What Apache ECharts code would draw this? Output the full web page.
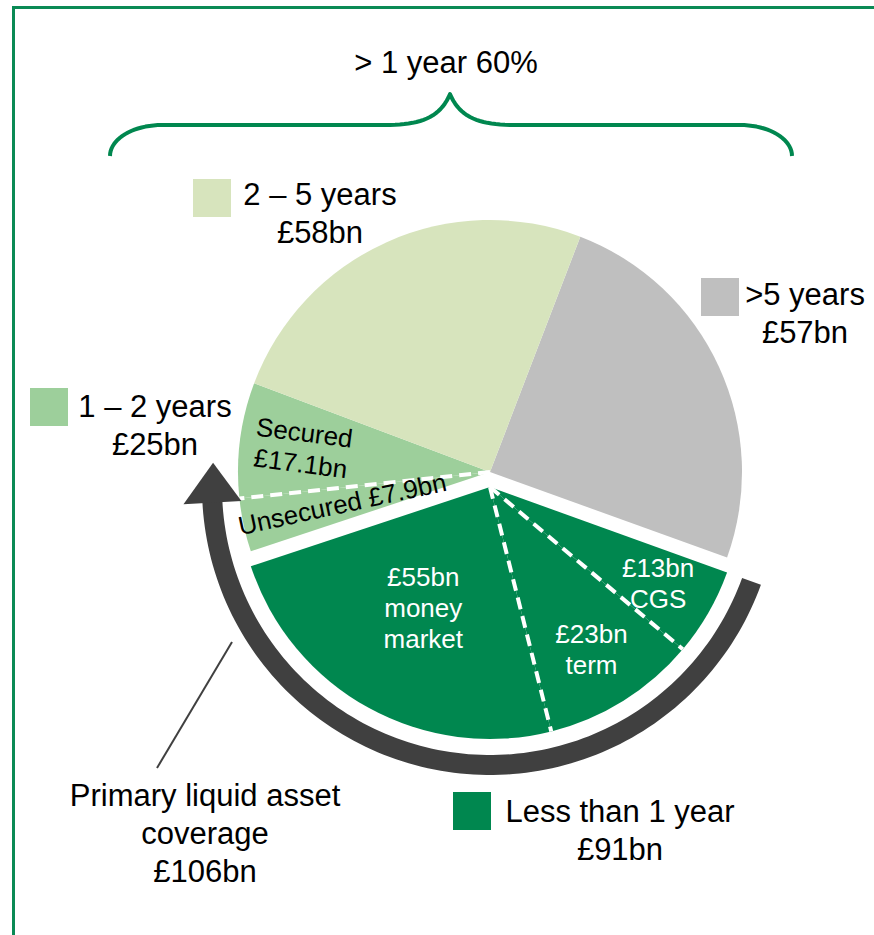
<!DOCTYPE html>
<html><head><meta charset="utf-8">
<script src="https://cdn.jsdelivr.net/npm/echarts@6/dist/echarts.min.js"></script>
<style>html,body{margin:0;padding:0;background:#fff}#c{width:874px;height:935px}</style>
</head><body><div id="c"></div>
<script>
// ---- data ----
const groupNames = ['>5 years', 'Less than 1 year', '1 – 2 years', '2 – 5 years'];
const groupValues = [57, 91, 25, 58];
const shortTermNames = ['CGS', 'term', 'money\nmarket'];
const shortTermValues = [13, 23, 55];
const oneToTwoNames = ['Unsecured', 'Secured'];
const oneToTwoValues = [7.9, 17.1];
const coverageValue = 106;
const coverageLabel = 'Primary liquid asset\ncoverage\n£106bn';
const braceLabel = '> 1 year 60%';

// ---- style / layout ----
const groupColors = ['#BFBFBF', '#00874F', '#9DCF9B', '#D7E4BD'];
const FONT = '"Liberation Sans", Arial, sans-serif';
const C = [490, 472], EXPLODE = 15, R = 252, RMAX = 1.25, START = 69;
const C2 = [C[0], C[1] + EXPLODE];

const total = groupValues.reduce((a, b) => a + b, 0);
const items = [];
items.push({ name: groupNames[0], value: groupValues[0], g: 0 });
shortTermValues.forEach((v, i) => items.push({ name: shortTermNames[i], value: v, g: 1 }));
oneToTwoValues.forEach((v, i) => items.push({ name: oneToTwoNames[i], value: v, g: 2 }));
items.push({ name: groupNames[3], value: groupValues[3], g: 3 });
let acc = 0;
items.forEach(it => { it.start = acc; acc += it.value; it.mid = it.start + it.value / 2; });

function pieData(showGroups) {
  return items.map(it => ({
    name: it.name, value: it.value,
    itemStyle: { color: showGroups.includes(it.g) ? groupColors[it.g] : 'rgba(0,0,0,0)', borderWidth: 0 }
  }));
}
const fmt = v => '£' + v + 'bn';

const stItems = items.filter(it => it.g === 1);
const otItems = items.filter(it => it.g === 2);
const dashExploded = stItems.slice(1).map(it => [1, it.start]);
const dashMain = otItems.slice(1).map(it => [1, it.start]);

const stRadius = [0.77, 0.76, 0.55];
const stLabels = stItems.map((it, i) => ({ text: fmt(shortTermValues[i]) + '\n' + shortTermNames[i], r: stRadius[i], radial: false, color: '#fff' }));
const otLabels = [
  { text: oneToTwoNames[0] + ' ' + fmt(oneToTwoValues[0]), r: 0.6, radial: true, color: '#000' },
  { text: oneToTwoNames[1] + '\n' + fmt(oneToTwoValues[1]), r: 0.75, radial: true, color: '#000' }
];

function labelRender(list) {
  return function (params, api) {
    const L = list[params.dataIndex];
    const p = api.coord([api.value(0), api.value(1)]);
    const c = api.coord([0, 0]);
    let rot = 0;
    if (L.radial) { rot = Math.atan2(p[1] - c[1], -(p[0] - c[0])); }
    return {
      type: 'text', x: p[0], y: p[1], rotation: rot,
      style: { text: L.text, fill: L.color, fontSize: 26, fontFamily: FONT, align: 'center', verticalAlign: 'middle', lineHeight: 31 }
    };
  };
}

function dashRender(params, api) {
  const a = api.value(1);
  const p0 = api.coord([0, a]), p1 = api.coord([1, a]);
  return { type: 'line', shape: { x1: p0[0], y1: p0[1], x2: p1[0], y2: p1[1] },
    style: { stroke: '#fff', lineWidth: 4, lineDash: [12, 7] } };
}

const arrowStart = stItems[0].start;
const arrowData = [[arrowStart, arrowStart + coverageValue]];
function arrowRender(params, api) {
  const s = api.value(0), e = api.value(1);
  const rMid = 278 / R, half = 10 / R, headHalf = 29 / R;
  const headVal = (40 / 278) * total / (2 * Math.PI);
  const se = e - headVal;
  const outer = [], inner = [];
  const n = 120;
  for (let i = 0; i <= n; i++) {
    const v = s + (se + 0.3 - s) * i / n;
    outer.push(api.coord([rMid + half, v]));
    inner.push(api.coord([rMid - half, v]));
  }
  const shaft = outer.concat(inner.reverse());
  const head = [api.coord([rMid + headHalf, se]), api.coord([rMid, e]), api.coord([rMid - headHalf, se])];
  return { type: 'group', children: [
    { type: 'polygon', shape: { points: shaft }, style: { fill: '#404040' } },
    { type: 'polygon', shape: { points: head }, style: { fill: '#404040' } }
  ] };
}

function cubic(p0, p1, p2, p3, n) {
  const out = [];
  for (let i = 0; i <= n; i++) {
    const t = i / n, u = 1 - t;
    out.push([u*u*u*p0[0] + 3*u*u*t*p1[0] + 3*u*t*t*p2[0] + t*t*t*p3[0],
              u*u*u*p0[1] + 3*u*u*t*p1[1] + 3*u*t*t*p2[1] + t*t*t*p3[1]]);
  }
  return out;
}
const bracePts = [].concat(
  cubic([110,156],[110,139],[133,125],[162,125],20),
  cubic([385,125],[420,125],[440,118],[450,94],20),
  cubic([450,94],[460,118],[480,125],[515,125],20),
  cubic([740,125],[769,125],[792,139],[792,156],20)
);

const legendPos = [
  { box: [701, 278], tx: 805, ty: 275 },
  { box: [453, 792], tx: 620, ty: 792 },
  { box: [30, 388], tx: 155, ty: 387 },
  { box: [193, 179], tx: 320, ty: 175 }
];
const graphics = [];
graphics.push({ type: 'polyline', shape: { points: [[13.5, 935], [13.5, 7.5], [874, 7.5]] }, style: { stroke: '#0A8A55', lineWidth: 3, fill: null } });
graphics.push({ type: 'polyline', shape: { points: bracePts }, style: { stroke: '#00874F', lineWidth: 4, fill: null, lineJoin: 'round' } });
graphics.push({ type: 'text', x: 446, y: 62, style: { text: braceLabel, fontSize: 31, fontFamily: FONT, fill: '#000', align: 'center', verticalAlign: 'middle', textAlign: 'center', textVerticalAlign: 'middle' } });
groupNames.forEach((n, i) => {
  const P = legendPos[i];
  graphics.push({ type: 'rect', shape: { x: P.box[0], y: P.box[1], width: 38, height: 38 }, style: { fill: groupColors[i] } });
  graphics.push({ type: 'text', x: P.tx, y: P.ty, style: { text: n + '\n' + fmt(groupValues[i]), fontSize: 31, fontFamily: FONT, fill: '#000', lineHeight: 38, align: 'center', verticalAlign: 'top', textAlign: 'center', textVerticalAlign: 'top' } });
});
graphics.push({ type: 'line', shape: { x1: 232, y1: 642, x2: 157, y2: 768 }, style: { stroke: '#404040', lineWidth: 2 } });
graphics.push({ type: 'text', x: 205, y: 776, style: { text: coverageLabel, fontSize: 31, fontFamily: FONT, fill: '#000', lineHeight: 38, align: 'center', verticalAlign: 'top', textAlign: 'center', textVerticalAlign: 'top' } });

const axisOff = { show: false, axisLine: { show: false }, axisTick: { show: false }, axisLabel: { show: false }, splitLine: { show: false } };
const option = {
  backgroundColor: '#fff',
  animation: false,
  polar: [{ center: C, radius: R * RMAX }, { center: C2, radius: R * RMAX }],
  angleAxis: [
    Object.assign({ polarIndex: 0, type: 'value', min: 0, max: total, startAngle: START, clockwise: true }, axisOff),
    Object.assign({ polarIndex: 1, type: 'value', min: 0, max: total, startAngle: START, clockwise: true }, axisOff)
  ],
  radiusAxis: [
    Object.assign({ polarIndex: 0, type: 'value', min: 0, max: RMAX }, axisOff),
    Object.assign({ polarIndex: 1, type: 'value', min: 0, max: RMAX }, axisOff)
  ],
  series: [
    { type: 'pie', center: C, radius: R, startAngle: START, clockwise: true, silent: true, z: 2,
      label: { show: false }, labelLine: { show: false }, emphasis: { disabled: true }, data: pieData([0, 2, 3]) },
    { type: 'pie', center: C2, radius: R, startAngle: START, clockwise: true, silent: true, z: 2,
      label: { show: false }, labelLine: { show: false }, emphasis: { disabled: true }, data: pieData([1]) },
    { type: 'custom', coordinateSystem: 'polar', polarIndex: 0, z: 3, silent: true, encode: { radius: 0, angle: 1 }, renderItem: dashRender, data: dashMain },
    { type: 'custom', coordinateSystem: 'polar', polarIndex: 1, z: 3, silent: true, encode: { radius: 0, angle: 1 }, renderItem: dashRender, data: dashExploded },
    { type: 'custom', coordinateSystem: 'polar', polarIndex: 1, z: 3, silent: true, renderItem: arrowRender, data: arrowData },
    { type: 'custom', coordinateSystem: 'polar', polarIndex: 1, z: 4, silent: true, encode: { radius: 0, angle: 1 }, renderItem: labelRender(stLabels), data: stItems.map((it, i) => [stRadius[i], it.mid]) },
    { type: 'custom', coordinateSystem: 'polar', polarIndex: 0, z: 4, silent: true, encode: { radius: 0, angle: 1 }, renderItem: labelRender(otLabels), data: otItems.map((it, i) => [otLabels[i].r, it.mid]) }
  ],
  graphic: graphics
};
const chart = echarts.init(document.getElementById('c'), null, { renderer: 'svg' });
chart.setOption(option);
</script>
</body></html>
